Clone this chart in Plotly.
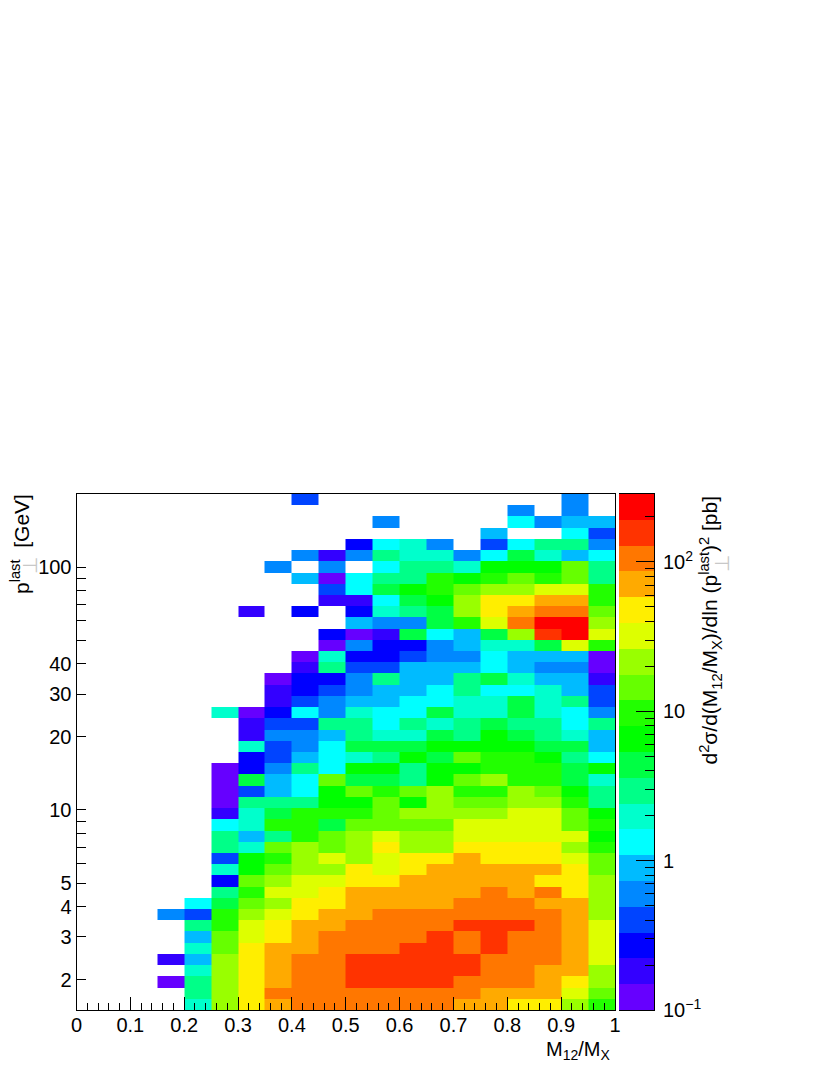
import numpy as np
import plotly.graph_objects as go

# d2sigma values in pb per cell, top row of the picture first, None = empty bin
_ = None
cells = [
    [_,_,_,_,_,_,_,_,.4,_,_,_,_,_,_,_,_,_,.59,_],
    [_,_,_,_,_,_,_,_,_,_,_,_,_,_,_,_,.59,_,.59,_],
    [_,_,_,_,_,_,_,_,_,_,_,.59,_,_,_,_,1.3,.59,.88,.88],
    [_,_,_,_,_,_,_,_,_,_,_,_,_,_,_,.88,_,_,1.3,.4],
    [_,_,_,_,_,_,_,_,_,_,.27,1.3,1.9,.59,_,.4,1.3,2.8,2.8,.59],
    [_,_,_,_,_,_,_,_,.59,.18,.59,2.8,1.9,1.9,.59,1.3,4.2,1.9,.88,1.3],
    [_,_,_,_,_,_,_,.59,_,.59,_,1.3,2.8,2.8,1.9,6.2,6.2,6.2,14,2.8],
    [_,_,_,_,_,_,_,_,.88,.12,1.3,2.8,2.8,9.2,6.2,9.2,14,9.2,14,2.8],
    [_,_,_,_,_,_,_,_,_,.4,1.3,4.2,6.2,9.2,14,20,20,30,30,9.2],
    [_,_,_,_,_,_,_,_,_,.18,.18,1.3,4.2,6.2,20,44,44,66,66,9.2],
    [_,_,_,_,_,_,.18,_,.27,_,.27,1.9,2.8,4.2,20,44,66,97,97,14],
    [_,_,_,_,_,_,_,_,_,_,.88,.59,.59,4.2,9.2,30,97,213,213,20],
    [_,_,_,_,_,_,_,_,_,.27,.12,.18,4.2,1.3,.88,4.2,20,144,213,30],
    [_,_,_,_,_,_,_,_,_,.12,.59,.27,.27,.59,.88,1.9,1.9,4.2,30,9.2],
    [_,_,_,_,_,_,_,_,.12,1.9,.27,.27,.4,.59,.59,1.3,.88,.88,.88,.12],
    [_,_,_,_,_,_,_,_,.18,2.8,.4,.4,.88,.88,.88,1.3,.88,.59,.59,.12],
    [_,_,_,_,_,_,_,.12,.27,.27,.59,2.8,.88,.88,2.8,4.2,1.9,.88,.88,.18],
    [_,_,_,_,_,_,_,.18,.27,.4,.59,.88,.88,1.3,2.8,1.3,1.3,1.9,.88,.4],
    [_,_,_,_,_,_,_,.18,.4,.59,.88,.88,1.3,1.3,1.9,1.9,4.2,1.9,2.8,.4],
    [_,_,_,_,_,1.9,.12,.27,1.3,.59,1.9,1.3,1.3,4.2,1.9,1.9,4.2,1.9,1.3,.59],
    [_,_,_,_,_,_,.18,.4,.4,2.8,2.8,1.3,2.8,1.9,2.8,4.2,2.8,2.8,1.3,2.8],
    [_,_,_,_,_,_,.18,.59,.59,.88,2.8,1.9,1.9,4.2,2.8,6.2,4.2,2.8,1.9,.88],
    [_,_,_,_,_,_,1.9,.4,.59,1.3,4.2,4.2,4.2,6.2,6.2,6.2,6.2,4.2,4.2,.88],
    [_,_,_,_,_,_,.27,.4,.88,1.3,1.9,2.8,6.2,4.2,14,9.2,9.2,6.2,2.8,1.3],
    [_,_,_,_,_,.12,.27,.59,2.8,1.3,6.2,6.2,2.8,6.2,6.2,9.2,9.2,9.2,4.2,6.2],
    [_,_,_,_,_,.12,4.2,.88,1.3,14,4.2,4.2,2.8,6.2,14,20,9.2,9.2,4.2,1.9],
    [_,_,_,_,_,.12,.4,.88,1.3,6.2,14,9.2,14,20,9.2,9.2,20,14,6.2,2.8],
    [_,_,_,_,_,.12,2.8,2.8,2.8,6.2,6.2,14,6.2,20,14,14,20,20,9.2,2.8],
    [_,_,_,_,_,.18,1.9,4.2,9.2,9.2,9.2,14,20,20,20,20,30,30,14,6.2],
    [_,_,_,_,_,1.3,1.9,9.2,9.2,4.2,14,14,14,14,30,30,30,30,14,9.2],
    [_,_,_,_,_,2.8,.88,2.8,9.2,14,20,30,20,20,30,30,30,30,30,6.2],
    [_,_,_,_,_,2.8,1.9,14,20,14,20,44,20,20,44,44,44,44,20,9.2],
    [_,_,_,_,_,.4,6.2,9.2,20,30,20,30,44,44,66,44,44,44,30,14],
    [_,_,_,_,_,1.9,6.2,14,20,20,44,30,44,66,66,66,66,66,44,14],
    [_,_,_,_,_,.27,14,20,30,30,44,44,66,66,66,66,66,44,44,20],
    [_,_,_,_,_,2.8,9.2,30,30,44,66,66,66,66,66,97,66,97,44,20],
    [_,_,_,_,1.3,4.2,14,20,44,44,66,66,66,66,97,97,97,66,66,20],
    [_,_,_,.59,.4,9.2,20,30,44,66,66,97,97,97,97,97,97,97,66,20],
    [_,_,_,_,2.8,9.2,30,44,66,66,97,97,97,97,144,144,144,97,66,30],
    [_,_,_,_,.88,14,30,44,66,97,97,97,97,144,97,144,97,97,66,30],
    [_,_,_,_,1.9,14,44,66,66,97,97,97,144,144,97,144,97,97,66,30],
    [_,_,_,.18,.88,20,44,66,97,97,144,144,144,144,144,97,97,97,66,30],
    [_,_,_,_,1.9,20,44,66,97,97,144,144,144,144,144,97,97,66,66,20],
    [_,_,_,.12,2.8,20,44,66,97,97,144,144,144,144,97,97,97,66,44,20],
    [_,_,_,_,2.8,20,44,97,97,97,97,97,97,97,97,66,66,66,30,14],
    [_,_,_,_,1.9,20,44,66,97,97,97,97,97,97,66,66,44,44,20,9.2],
]

band_colors = ["#6600ff", "#3300ff", "#0000ff", "#0044ff", "#0088ff", "#00bbff", "#00ffff",
               "#00ffcc", "#00ff88", "#00ff44", "#00ff00", "#22ff00", "#66ff00", "#99ff00",
               "#ddff00", "#ffee00", "#ffaa00", "#ff7700", "#ff3300", "#ff0000"]

x_edges = np.linspace(0, 1, 21)
y_range = [np.log10(1.5), np.log10(200)]
y_edges = np.logspace(y_range[0], y_range[1], len(cells) + 1)

z_range = [-1, np.log10(285)]
band_edges = np.linspace(z_range[0], z_range[1], len(band_colors) + 1)

colorscale = []
for i, c in enumerate(band_colors):
    colorscale.append([i / len(band_colors), c])
    colorscale.append([(i + 1) / len(band_colors), c])

# grid values in log10 so that the bands are even
z = np.array(cells[::-1], dtype=float)
z = np.log10(z)

# the page has a body margin of 8px
W, H = 814, 1059
def px(x):
    return (x - 8) / W
def py(y):
    return 1 - (y - 8) / H

FONT = "Liberation Sans"
BLACK = "#000000"

fig = go.Figure()
fig.add_trace(go.Heatmap(x=x_edges, y=y_edges, z=z, colorscale=colorscale,
                         zmin=z_range[0], zmax=z_range[1], showscale=False,
                         hoverongaps=False, xgap=0, ygap=0))

# colour scale drawn on its own axes
bar_z = [[(band_edges[i] + band_edges[i + 1]) / 2] for i in range(len(band_colors))]
fig.add_trace(go.Heatmap(x=[0, 1], y=10 ** band_edges, z=bar_z, colorscale=colorscale,
                         zmin=z_range[0], zmax=z_range[1], showscale=False,
                         xaxis="x2", yaxis="y2"))

fig.update_layout(
    width=W, height=H, autosize=False,
    margin=dict(l=0, r=0, t=0, b=0),
    paper_bgcolor="white", plot_bgcolor="white",
    font=dict(family=FONT, size=20, color=BLACK),
    showlegend=False,
    xaxis=dict(domain=[px(76.5), px(615)], range=[0, 1], anchor="y", automargin=False,
               tickvals=[0, .1, .2, .3, .4, .5, .6, .7, .8, .9, 1],
               ticktext=["0", "0.1", "0.2", "0.3", "0.4", "0.5", "0.6", "0.7", "0.8", "0.9", "1"],
               ticks="inside", ticklen=13, tickcolor=BLACK, tickwidth=1,
               minor=dict(tickvals=[round(i * .02, 2) for i in range(51) if i % 5],
                          ticks="inside", ticklen=7, tickcolor=BLACK, tickwidth=1),
               showgrid=False, zeroline=False, showline=True, linecolor=BLACK, linewidth=1,
               mirror=True, ticklabelstandoff=-3),
    yaxis=dict(domain=[py(1010), py(494)], type="log", range=y_range, anchor="x", automargin=False,
               tickvals=[2, 3, 4, 5, 10, 20, 30, 40, 100],
               ticktext=["2", "3", "4", "5", "10", "20", "30", "40", "100"],
               ticks="inside", ticklen=9, tickcolor=BLACK, tickwidth=1,
               minor=dict(tickvals=[6, 7, 8, 9, 50, 60, 70, 80, 90],
                          ticks="inside", ticklen=9, tickcolor=BLACK, tickwidth=1),
               showgrid=False, zeroline=False, showline=True, linecolor=BLACK, linewidth=1,
               mirror=True),
    # only carries the longer decade ticks
    yaxis3=dict(domain=[py(1010), py(494)], type="log", range=y_range, anchor="x", automargin=False,
                overlaying="y", tickvals=[10, 100], showticklabels=False,
                ticks="inside", ticklen=18, tickcolor=BLACK, tickwidth=1,
                showgrid=False, zeroline=False, showline=False),
    xaxis2=dict(domain=[px(619), px(654)], range=[0, 1], anchor="y2", showticklabels=False,
                automargin=False, ticks="", showgrid=False, zeroline=False, showline=True,
                linecolor=BLACK, linewidth=1, mirror=True),
    yaxis2=dict(domain=[py(1010), py(494)], type="log", range=z_range, anchor="x2", side="right",
                automargin=False,
                tickvals=[.1, 1, 10, 100],
                ticktext=["10<sup>−1</sup>", "1", "10", "10<sup>2</sup>"],
                ticks="inside", ticklen=18, tickcolor=BLACK, tickwidth=1,
                minor=dict(tickvals=[.2, .3, .4, .5, .6, .7, .8, .9,
                                     2, 3, 4, 5, 6, 7, 8, 9,
                                     20, 30, 40, 50, 60, 70, 80, 90, 200],
                           ticks="inside", ticklen=9, tickcolor=BLACK, tickwidth=1),
                showgrid=False, zeroline=False, showline=True, linecolor=BLACK, linewidth=1,
                ticklabelstandoff=4),
)

fig.add_annotation(x=px(612), y=py(1050), xref="paper", yref="paper", xanchor="right", yanchor="middle",
                   text="M<sub>12</sub>/M<sub>X</sub>", showarrow=False, font=dict(size=20))
fig.add_annotation(x=px(20), y=py(492), xref="paper", yref="paper", xanchor="center", yanchor="top",
                   text="p<sup>last</sup>  [GeV]", textangle=-90, showarrow=False, font=dict(size=21))
fig.add_annotation(x=px(30), y=py(566), xref="paper", yref="paper", xanchor="center", yanchor="middle",
                   text="⊥", textangle=-90, showarrow=False, font=dict(size=20, color="#c8c8c8"))
fig.add_annotation(x=px(710), y=py(494), xref="paper", yref="paper", xanchor="center", yanchor="top",
                   text="d<sup>2</sup>σ/d(M<sub>12</sub>/M<sub>X</sub>)/dln (p<sup>last</sup>)<sup>2</sup> [pb]",
                   textangle=-90, showarrow=False, font=dict(size=21))
fig.add_annotation(x=px(722), y=py(564), xref="paper", yref="paper", xanchor="center", yanchor="middle",
                   text="⊥", textangle=-90, showarrow=False, font=dict(size=20, color="#c8c8c8"))

fig.write_html("out.html")
